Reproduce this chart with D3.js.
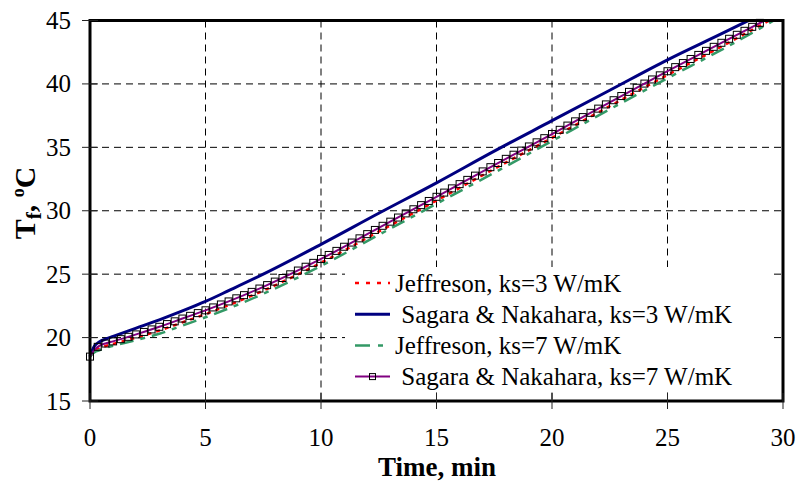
<!DOCTYPE html>
<html>
<head>
<meta charset="utf-8">
<script src="https://cdn.jsdelivr.net/npm/d3@7/dist/d3.min.js"></script>
<style>
  body { margin: 0; background: #fff; }
  svg { display: block; }
  svg text { font-family: 'Liberation Serif', 'Times New Roman', Times, 'DejaVu Serif', serif; }
</style>
</head>
<body>
<div id="chart"></div>
<script>
// Fluid temperature vs time, four models
var xTicks = [0, 5, 10, 15, 20, 25, 30];
var yTicks = [15, 20, 25, 30, 35, 40, 45];

var sagara3T = [0, 0.1, 0.2, 0.4, 0.7, 1, 2, 3, 4, 5, 6, 7.5, 10, 12.5, 15, 17.5, 20, 22.5, 25, 27.5, 28.5];
var sagara3V = [18.5, 19.0, 19.35, 19.65, 19.9, 20.1, 20.75, 21.4, 22.1, 22.85, 23.7, 25.0, 27.35, 29.8, 32.2, 34.7, 37.1, 39.5, 41.9, 44.1, 45.0];

var sagara7T = [0, 0.1, 0.2, 0.4, 0.7, 1, 2, 3, 4, 5, 6, 7.5, 10, 12.5, 15, 17.5, 20, 22.5, 25, 27.5, 29.2];
var sagara7V = [18.5, 18.8, 19.05, 19.35, 19.55, 19.7, 20.25, 20.85, 21.5, 22.15, 22.85, 24.0, 26.2, 28.65, 31.1, 33.6, 36.05, 38.55, 41.0, 43.4, 45.0];

var jeff3T = [0, 0.1, 0.2, 0.4, 0.7, 1, 2, 3, 4, 5, 6, 7.5, 10, 12.5, 15, 17.5, 20, 22.5, 25, 27.5, 29.4];
var jeff3V = [18.5, 18.75, 18.95, 19.15, 19.35, 19.5, 20.0, 20.55, 21.2, 21.85, 22.55, 23.7, 25.9, 28.35, 30.8, 33.3, 35.75, 38.25, 40.7, 43.1, 45.0];

var jeff7T = [0, 0.1, 0.2, 0.4, 0.7, 1, 2, 3, 4, 5, 6, 7.5, 10, 12.5, 15, 17.5, 20, 22.5, 25, 27.5, 29.6];
var jeff7V = [18.5, 18.7, 18.85, 19.0, 19.2, 19.35, 19.8, 20.3, 20.95, 21.6, 22.3, 23.45, 25.65, 28.1, 30.55, 33.0, 35.5, 38.0, 40.45, 42.85, 45.0];

var seriesNames = [
  'Jeffreson, ks=3 W/mK',
  ' Sagara & Nakahara, ks=3 W/mK',
  'Jeffreson, ks=7 W/mK',
  ' Sagara & Nakahara, ks=7 W/mK'
];

var width = 798, height = 481;
var plotLeft = 90, plotRight = 783, plotTop = 20.5, plotBottom = 401;

var svg = d3.select('#chart').append('svg')
    .attr('width', width)
    .attr('height', height);

var x = d3.scaleLinear().domain([0, 30]).range([plotLeft, plotRight]);
var y = d3.scaleLinear().domain([15, 45]).range([plotBottom, plotTop]);

function zip(ts, vs) {
  return ts.map(function(t, i) { return {t: t, v: vs[i]}; });
}

var series = [
  {name: seriesNames[0], data: zip(jeff3T, jeff3V), color: '#ff0000', width: 2.5, dash: '4,5', legendDash: '4,7'},
  {name: seriesNames[1], data: zip(sagara3T, sagara3V), color: '#000080', width: 3, dash: null, legendDash: null},
  {name: seriesNames[2], data: zip(jeff7T, jeff7V), color: '#339966', width: 2.5, dash: '14,7,5,7', legendDash: '15,8,5,8'},
  {name: seriesNames[3], data: zip(sagara7T, sagara7V), color: '#800080', width: 2, dash: null, legendDash: null, markers: true}
];

// Grid lines
svg.append('g')
    .attr('class', 'grid')
    .selectAll('line')
    .data(xTicks.slice(1, -1))
    .enter()
    .append('line')
    .attr('x1', d => x(d)).attr('x2', d => x(d))
    .attr('y1', plotTop).attr('y2', plotBottom)
    .style('stroke', '#000')
    .style('stroke-width', 1)
    .style('stroke-dasharray', '7,5');

svg.append('g')
    .attr('class', 'grid')
    .selectAll('line')
    .data(yTicks.slice(1, -1))
    .enter()
    .append('line')
    .attr('y1', d => y(d)).attr('y2', d => y(d))
    .attr('x1', plotLeft).attr('x2', plotRight)
    .style('stroke', '#000')
    .style('stroke-width', 1)
    .style('stroke-dasharray', '7,5');

// Legend background hides the grid behind it
var legendX = 355, legendY = 283, legendStep = 31.2;
svg.append('rect')
    .attr('x', 345).attr('y', 267)
    .attr('width', 425).attr('height', 125)
    .style('fill', '#fff');

var line = d3.line()
    .x(d => x(d.t))
    .y(d => y(d.v))
    .curve(d3.curveMonotoneX);

var paths = svg.append('g')
    .attr('class', 'data-lines')
    .selectAll('path')
    .data(series)
    .enter()
    .append('path')
    .attr('class', 'line')
    .attr('d', d => line(d.data))
    .style('fill', 'none')
    .style('stroke', d => d.color)
    .style('stroke-width', d => d.width)
    .style('stroke-dasharray', d => d.dash);

// Square markers every 20 s along the ks=7 Sagara curve
var markerNode = paths.filter(d => d.markers).node();
var total = markerNode.getTotalLength();
function pointAtX(px) {
  var lo = 0, hi = total, p;
  for (var k = 0; k < 30; k++) {
    var mid = (lo + hi) / 2;
    p = markerNode.getPointAtLength(mid);
    if (p.x < px) lo = mid; else hi = mid;
  }
  return p;
}
var markerTimes = d3.range(0, 29.2, 1 / 3);
svg.append('g')
    .attr('class', 'markers')
    .selectAll('rect')
    .data(markerTimes)
    .enter()
    .append('rect')
    .each(function(t) {
      var p = pointAtX(x(t));
      d3.select(this)
          .attr('x', p.x - 3.5).attr('y', p.y - 3.5)
          .attr('width', 7).attr('height', 7);
    })
    .style('fill', 'none')
    .style('stroke', '#000')
    .style('stroke-width', 1);

// Plot frame
svg.append('rect')
    .attr('x', plotLeft).attr('y', plotTop)
    .attr('width', plotRight - plotLeft).attr('height', plotBottom - plotTop)
    .style('fill', 'none')
    .style('stroke', '#000')
    .style('stroke-width', 3);

// Cross ticks
svg.append('g')
    .selectAll('line')
    .data(yTicks)
    .enter()
    .append('line')
    .attr('x1', plotLeft - 8).attr('x2', plotLeft + 8)
    .attr('y1', d => y(d)).attr('y2', d => y(d))
    .style('stroke', '#222')
    .style('stroke-width', 1);

svg.append('g')
    .selectAll('line')
    .data(xTicks)
    .enter()
    .append('line')
    .attr('y1', plotBottom - 8).attr('y2', plotBottom + 8)
    .attr('x1', d => x(d)).attr('x2', d => x(d))
    .style('stroke', '#222')
    .style('stroke-width', 1);

// Tick labels
svg.append('g')
    .selectAll('text')
    .data(yTicks)
    .enter()
    .append('text')
    .attr('x', 71)
    .attr('y', d => y(d))
    .attr('dy', '0.34em')
    .attr('text-anchor', 'end')
    .style('font-size', '25px')
    .text(d => d);

svg.append('g')
    .selectAll('text')
    .data(xTicks)
    .enter()
    .append('text')
    .attr('x', d => x(d))
    .attr('y', 446)
    .attr('text-anchor', 'middle')
    .style('font-size', '25px')
    .text(d => d);

// Axis titles
svg.append('text')
    .attr('x', 437)
    .attr('y', 476)
    .attr('text-anchor', 'middle')
    .style('font-size', '27px')
    .style('font-weight', 'bold')
    .text('Time, min');

var yTitle = svg.append('text')
    .attr('transform', 'translate(35, 203) rotate(-90)')
    .attr('text-anchor', 'middle')
    .style('font-size', '30px')
    .style('font-weight', 'bold');
yTitle.append('tspan').text('T');
yTitle.append('tspan').attr('dy', 6).style('font-size', '21px').text('f');
yTitle.append('tspan').attr('dy', -6).text(', ');
yTitle.append('tspan').attr('dy', -11).style('font-size', '18px').text('o');
yTitle.append('tspan').attr('dy', 11).text('C');

// Legend
var legend = svg.append('g')
    .attr('class', 'legend')
    .selectAll('g')
    .data(series)
    .enter()
    .append('g')
    .attr('transform', (d, i) => `translate(${legendX}, ${legendY + i * legendStep})`);

legend.append('line')
    .attr('x1', 0).attr('x2', 35)
    .style('stroke', d => d.color)
    .style('stroke-width', d => d.width)
    .style('stroke-dasharray', d => d.legendDash);

legend.filter(d => d.markers)
    .append('rect')
    .attr('x', 14.5).attr('y', -3)
    .attr('width', 6).attr('height', 6)
    .style('fill', 'none')
    .style('stroke', '#000')
    .style('stroke-width', 1);

legend.append('text')
    .attr('x', 40)
    .attr('y', 8.5)
    .style('font-size', '25px')
    .style('white-space', 'pre')
    .text(d => d.name);
</script>
</body>
</html>
